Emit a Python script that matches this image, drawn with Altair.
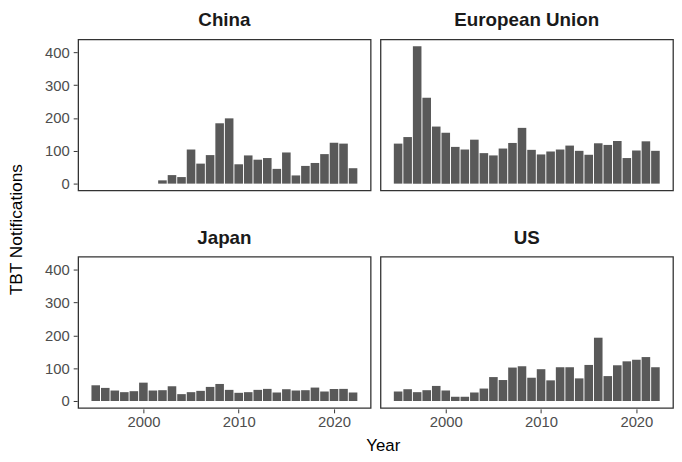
import altair as alt
import pandas as pd

years = list(range(1995, 2023))
china_years = list(range(2002, 2023))

china = [10, 26, 20, 104, 61, 87, 184, 199, 59, 86, 73, 78, 45, 95, 25, 54, 63, 90, 125, 122, 47]
eu = [122, 142, 419, 262, 174, 155, 112, 104, 134, 93, 86, 107, 124, 170, 103, 89, 98, 104,
      116, 100, 88, 123, 118, 130, 78, 101, 129, 100]
japan = [48, 40, 32, 27, 30, 56, 32, 33, 45, 21, 27, 31, 43, 52, 34, 25, 27, 34, 37, 26, 36,
         32, 33, 41, 29, 37, 37, 26]
us = [29, 36, 27, 33, 46, 32, 13, 13, 26, 38, 73, 64, 102, 106, 71, 97, 63, 103, 103, 69, 110,
      193, 76, 109, 121, 126, 134, 103]

rows = []
for y, v in zip(china_years, china):
    rows.append({"country": "China", "year": y, "value": v})
for name, vals in [("European Union", eu), ("Japan", japan), ("US", us)]:
    for y, v in zip(years, vals):
        rows.append({"country": name, "year": y, "value": v})
df = pd.DataFrame(rows)

FONT = "Liberation Sans"
PW, PH = 296, 153
YEXT = 34

base = alt.Chart(df).transform_calculate(
    x1="datum.year - 0.45", x2="datum.year + 0.45"
).mark_bar(color="#595959").encode(
    x=alt.X("x1:Q", scale=alt.Scale(domain=[1993.155, 2023.845], nice=False, zero=False),
            axis=alt.Axis(title=None, values=[2000, 2010, 2020], format="d", grid=False,
                          domain=False, tickColor="#333333", tickSize=4, labelPadding=2,
                          labelColor="#4d4d4d", labelFontSize=15, labelFont=FONT)),
    x2="x2:Q",
    y=alt.Y("value:Q", scale=alt.Scale(domain=[-20.95, 439.95], nice=False, zero=False),
            axis=alt.Axis(title=None, values=[0, 100, 200, 300, 400], grid=False, domain=False,
                          tickColor="#333333", tickSize=4, labelPadding=4,
                          labelColor="#4d4d4d", labelFontSize=15, labelFont=FONT,
                          minExtent=YEXT, maxExtent=YEXT)),
    y2=alt.datum(0),
).properties(width=PW, height=PH)

facet = base.facet(
    facet=alt.Facet("country:N", header=alt.Header(
        title=None, labelFontSize=19, labelFontWeight="bold", labelFont=FONT,
        labelColor="#1a1a1a", labelPadding=9)),
    columns=2,
    spacing={"row": 37, "column": 8},
).properties(
    title=alt.TitleParams("Year", orient="bottom", anchor="middle",
                          font=FONT, fontSize=17, fontWeight="normal", color="#000000",
                          offset=9, dx=25)
)

chart = alt.hconcat(facet, spacing=0).properties(
    title=alt.TitleParams("TBT Notifications", orient="left", anchor="middle",
                          font=FONT, fontSize=17.5, fontWeight="normal", color="#000000",
                          offset=18, dx=3),
    padding={"left": 0, "top": 0, "right": 0, "bottom": 0},
    background="white",
).configure_view(stroke="#333333", strokeWidth=1.3)

chart.save("out.html", embed_options={"renderer": "svg", "actions": False})
